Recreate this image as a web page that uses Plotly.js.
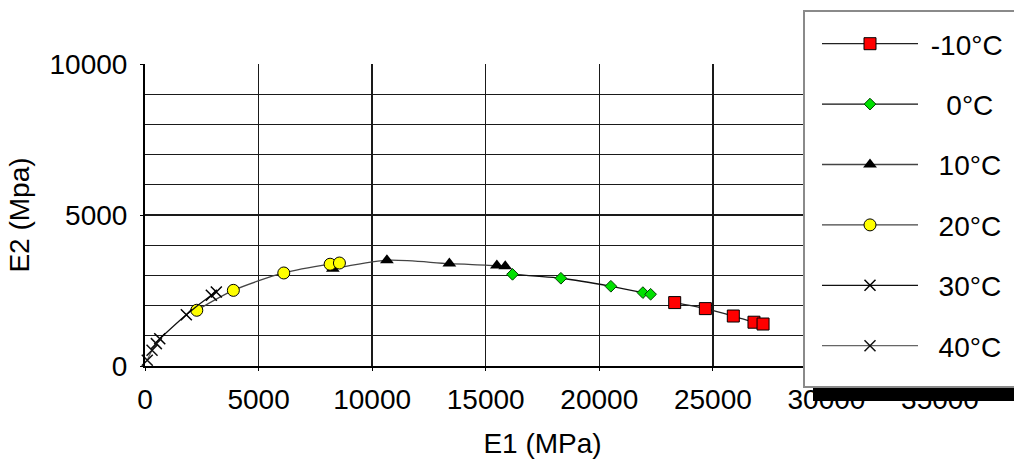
<!DOCTYPE html>
<html>
<head>
<meta charset="utf-8">
<script src="https://cdn.plot.ly/plotly-3.0.1.min.js"></script>
<style>
  html, body { margin: 0; padding: 0; background: #fff; }
  #chart { width: 1014px; height: 459px; }
</style>
</head>
<body>
<div id="chart"></div>
<script>
// Storage modulus E1 vs loss modulus E2 (Cole-Cole plane), one series per test temperature
const tempLabels = ['-10°C', '0°C', '10°C', '20°C', '30°C', '40°C'];

const e1Minus10 = [23320, 24670, 25900, 26810, 27210];
const e2Minus10 = [2100, 1900, 1655, 1450, 1390];

const e1Zero = [16180, 18310, 20510, 21920, 22260];
const e2Zero = [3035, 2905, 2640, 2430, 2375];

const e1Ten = [8270, 10650, 13400, 15490, 15860];
const e2Ten = [3220, 3500, 3390, 3325, 3300];

const e1Twenty = [2280, 3890, 6110, 8150, 8560];
const e2Twenty = [1845, 2505, 3080, 3370, 3410];

const e1Thirty = [650, 1820, 2920, 3140];
const e2Thirty = [905, 1700, 2340, 2450];

const e1Forty = [100, 310, 500];
const e2Forty = [190, 520, 740];

const xTicks = [0, 5000, 10000, 15000, 20000, 25000, 30000, 35000];
const yTicks = [0, 5000, 10000];

const FONT = 'Liberation Sans, Arial, sans-serif';
const FS = 28;

// plot area in pixels
const L = 145, R = 940, T = 64, B = 366;
const W = 1014, H = 459;
const pw = R - L, ph = B - T;
const px = v => (v - L) / pw;
const py = v => (B - v) / ph;

// legend labels are indented a little so they sit centred in the box
const NB = '\u00a0';
const legendIndent = [1, 3, 2, 2, 2, 2];

const styles = [
  { x: e1Minus10, y: e2Minus10, marker: { symbol: 'square', size: 12, color: '#ff0000', line: { color: '#000', width: 1 } }, line: '#222' },
  { x: e1Zero, y: e2Zero, marker: { symbol: 'diamond', size: 9, color: '#00e000', line: { color: '#004000', width: 1 } }, line: '#111' },
  { x: e1Ten, y: e2Ten, marker: { symbol: 'triangle-up', size: 12, color: '#000', line: { color: '#000', width: 0 } }, line: '#444' },
  { x: e1Twenty, y: e2Twenty, marker: { symbol: 'circle', size: 12, color: '#ffff00', line: { color: '#000', width: 1 } }, line: '#444' },
  { x: e1Thirty, y: e2Thirty, marker: { symbol: 'x-thin-open', size: 11, color: '#000', line: { color: '#000', width: 1.5 } }, line: '#111' },
  { x: e1Forty, y: e2Forty, marker: { symbol: 'x-thin-open', size: 11, color: '#111', line: { color: '#111', width: 1.5 } }, line: '#666' }
];

const traces = styles.map((s, i) => ({
  type: 'scatter',
  mode: 'lines+markers',
  name: NB.repeat(legendIndent[i]) + tempLabels[i],
  legendgroup: 'g' + i,
  x: s.x,
  y: s.y,
  line: { color: s.line, width: 1.3, shape: 'spline', smoothing: 0.8 },
  marker: s.marker,
  cliponaxis: false
}));

const gridColor = '#1a1a1a';

const layout = {
  width: W,
  height: H,
  margin: { l: L, r: W - R, t: T, b: H - B, autoexpand: false },
  paper_bgcolor: '#fff',
  plot_bgcolor: '#fff',
  font: { family: FONT, size: FS, color: '#000' },
  showlegend: true,
  xaxis: {
    range: [0, 35000],
    tickvals: xTicks,
    ticktext: xTicks.map(String),
    showgrid: true,
    gridcolor: gridColor,
    gridwidth: 1.3,
    zeroline: false,
    showline: true,
    linecolor: '#000',
    linewidth: 2,
    ticks: 'outside',
    ticklen: 3,
    tickcolor: '#000',
    ticklabelstandoff: 4,
    tickfont: { size: FS, family: FONT, color: '#000' },
    title: { text: 'E1 (MPa)', font: { size: FS, family: FONT, color: '#000' }, standoff: 22 },
    automargin: false
  },
  yaxis: {
    range: [0, 10000],
    tickvals: yTicks,
    ticktext: yTicks.map(String),
    showgrid: true,
    gridcolor: gridColor,
    gridwidth: 1.3,
    minor: { dtick: 1000, showgrid: true, gridcolor: gridColor, gridwidth: 1.3, ticks: '' },
    zeroline: false,
    showline: true,
    linecolor: '#000',
    linewidth: 2,
    ticks: 'outside',
    ticklen: 3,
    tickcolor: '#000',
    ticklabelstandoff: 7,
    tickfont: { size: FS, family: FONT, color: '#000' },
    title: { text: 'E2 (Mpa)', font: { size: FS, family: FONT, color: '#000' }, standoff: 12 },
    automargin: false
  },
  legend: {
    x: px(817),
    xanchor: 'left',
    y: py(19),
    yanchor: 'top',
    bgcolor: 'rgba(0,0,0,0)',
    borderwidth: 0,
    itemwidth: 96,
    tracegroupgap: 21,
    traceorder: 'grouped',
    maxheight: 440,
    font: { size: FS, family: FONT, color: '#000' }
  },
  shapes: [
    // drop shadow under the legend box
    { type: 'rect', xref: 'paper', yref: 'paper', x0: px(813), x1: px(1030), y0: py(401), y1: py(388),
      fillcolor: '#000', line: { width: 0 }, layer: 'above' },
    // legend box
    { type: 'rect', xref: 'paper', yref: 'paper', x0: px(804), x1: px(1030), y0: py(387), y1: py(11),
      fillcolor: '#fff', line: { color: '#8a8a8a', width: 2 }, layer: 'above' }
  ]
};

Plotly.newPlot('chart', traces, layout, { staticPlot: true, displayModeBar: false });
</script>
</body>
</html>
